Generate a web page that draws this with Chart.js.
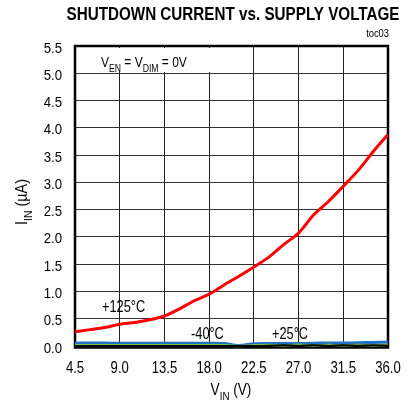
<!DOCTYPE html>
<html>
<head>
<meta charset="utf-8">
<script src="https://cdn.jsdelivr.net/npm/chart.js@4.4.1/dist/chart.umd.min.js"></script>
<style>
  html, body { margin: 0; padding: 0; background: #fff; }
  #wrap { width: 413px; height: 405px; }
</style>
</head>
<body>
<div id="wrap"><canvas id="shutdownChart"></canvas></div>
<script>
const FONT = '"Liberation Sans", Arial, sans-serif';

// supply voltage (V)
const vIn = [4.5, 6.0, 7.5, 9.0, 10.5, 12.0, 13.5, 15.0, 16.5, 18.0, 19.5,
             21.0, 22.5, 24.0, 25.5, 27.0, 28.5, 30.0, 31.5, 33.0, 34.5, 36.0];
const xTicks = [4.5, 9.0, 13.5, 18.0, 22.5, 27.0, 31.5, 36.0];
const yTicks = [0, 0.5, 1, 1.5, 2, 2.5, 3, 3.5, 4, 4.5, 5, 5.5];

// shutdown current (uA)
const i125 = [0.26, 0.30, 0.34, 0.40, 0.43, 0.48, 0.55, 0.68, 0.83, 0.95, 1.12,
              1.28, 1.45, 1.63, 1.86, 2.07, 2.40, 2.65, 2.93, 3.22, 3.56, 3.88];
const iM40 = [0.05, 0.055, 0.055, 0.05, 0.05, 0.05, 0.05, 0.05, 0.05, 0.05, 0.045,
              0.01, 0.04, 0.045, 0.045, 0.045, 0.05, 0.055, 0.055, 0.06, 0.065, 0.07];
const i25 = [0.012, 0.012, 0.012, 0.012, 0.012, 0.012, 0.012, 0.012, 0.012, 0.012, 0.012,
             0.0, 0.012, 0.02, 0.008, 0.022, 0.006, 0.02, 0.008, 0.02, 0.01, 0.018];
const i25b = [0.0, 0.0, 0.0, 0.0, 0.0, 0.0, 0.0, 0.0, 0.0, 0.0, 0.0,
              0.0, 0.0, 0.004, 0.012, 0.002, 0.014, 0.002, 0.012, 0.003, 0.012, 0.004];

const pts = arr => arr.map((v, i) => ({ x: vIn[i], y: v }));

function sqText(ctx, text, x, y, font, sq, align) {
  ctx.save();
  ctx.font = font;
  ctx.textAlign = align || 'left';
  ctx.translate(x, y);
  ctx.scale(sq, 1);
  ctx.fillText(text, 0, 0);
  ctx.restore();
}

// text with subscripts, parts = [[text, isSub], ...]
function subText(ctx, parts, x, y, size, sq, centered) {
  ctx.save();
  let w = 0;
  parts.forEach(p => {
    ctx.font = (p[1] ? size * 0.72 : size) + 'px ' + FONT;
    w += ctx.measureText(p[0]).width;
  });
  ctx.translate(x, y);
  ctx.scale(sq, 1);
  let cx = centered ? -w / 2 : 0;
  ctx.textAlign = 'left';
  parts.forEach(p => {
    ctx.font = (p[1] ? size * 0.72 : size) + 'px ' + FONT;
    ctx.fillText(p[0], cx, p[1] ? size * 0.3 : 0);
    cx += ctx.measureText(p[0]).width;
  });
  ctx.restore();
}

const decorPlugin = {
  id: 'decor',
  beforeDatasetsDraw(chart) {
    const ctx = chart.ctx;
    const a = chart.chartArea;
    ctx.save();
    ctx.strokeStyle = '#000';
    ctx.lineWidth = 2.5;
    ctx.strokeRect(a.left, a.top, a.right - a.left, a.bottom - a.top + 1.5);
    ctx.fillStyle = '#fff';
    ctx.fillRect(a.left + 2, a.top + 2, 134, 24);
    ctx.restore();
  },
  afterDatasetsDraw(chart) {
    const ctx = chart.ctx;
    const a = chart.chartArea;
    const xs = chart.scales.x;
    const ys = chart.scales.y;
    ctx.save();
    ctx.fillStyle = '#000';
    ctx.textBaseline = 'alphabetic';

    // tick labels
    xs.ticks.forEach(t => {
      sqText(ctx, t.value.toFixed(1), xs.getPixelForValue(t.value), a.bottom + 27, '16px ' + FONT, 0.82, 'center');
    });
    ys.ticks.forEach(t => {
      sqText(ctx, t.value.toFixed(1), a.left - 13, ys.getPixelForValue(t.value) + 6.5, '15px ' + FONT, 0.88, 'right');
    });

    // condition
    subText(ctx, [['V', false], ['EN', true], [' = V', false], ['DIM', true], [' = 0V', false]], 101, 67, 15, 0.8);

    // curve labels
    sqText(ctx, '+125\u00B0C', 102, 312, '16px ' + FONT, 0.8);
    sqText(ctx, '-40\u00B0C', 191, 339, '16px ' + FONT, 0.8);
    sqText(ctx, '+25\u00B0C', 272, 339, '16px ' + FONT, 0.8);

    // title
    ctx.save();
    ctx.font = 'bold 18px ' + FONT;
    ctx.textAlign = 'center';
    const title = 'SHUTDOWN CURRENT vs. SUPPLY VOLTAGE';
    const k = 333 / ctx.measureText(title).width;
    ctx.translate(233, 20);
    ctx.scale(k, 1);
    ctx.fillText(title, 0, 0);
    ctx.restore();

    sqText(ctx, 'toc03', 389, 37, '11px ' + FONT, 0.85, 'right');

    // axis titles
    subText(ctx, [['V', false], ['IN', true], [' (V)', false]], 231, 395, 16, 0.85, true);
    ctx.translate(27, 202);
    ctx.rotate(-Math.PI / 2);
    subText(ctx, [['I', false], ['IN', true], [' (\u00B5A)', false]], 0, 0, 16, 0.9, true);
    ctx.restore();
  }
};

const ctx = document.getElementById('shutdownChart').getContext('2d');
const shutdownChart = new Chart(ctx, {
  type: 'line',
  data: {
    datasets: [
      { label: '+25C b', data: pts(i25b), borderColor: '#000000', borderWidth: 2, clip: false },
      { label: '+25C', data: pts(i25), borderColor: '#7dc242', borderWidth: 2.5, clip: false },
      { label: '-40C', data: pts(iM40), borderColor: '#1f72c4', borderWidth: 3, clip: false },
      { label: '+125C', data: pts(i125), borderColor: '#ff0000', borderWidth: 3 }
    ]
  },
  options: {
    responsive: true,
    maintainAspectRatio: false,
    animation: false,
    layout: { padding: { top: 46, right: 25, left: 0, bottom: 0 } },
    elements: { point: { radius: 0 }, line: { tension: 0.3, fill: false } },
    plugins: { legend: { display: false }, tooltip: { enabled: false } },
    scales: {
      x: {
        type: 'linear',
        min: 4.5,
        max: 36,
        afterBuildTicks: scale => { scale.ticks = xTicks.map(v => ({ value: v })); },
        afterFit: scale => { scale.height = 59; },
        border: { display: false },
        grid: { color: '#222', lineWidth: 1, drawTicks: false },
        ticks: { display: false }
      },
      y: {
        min: 0,
        max: 5.5,
        afterBuildTicks: scale => { scale.ticks = yTicks.map(v => ({ value: v })); },
        afterFit: scale => { scale.width = 75; },
        border: { display: false },
        grid: { color: '#333', lineWidth: 1, drawTicks: false },
        ticks: { display: false }
      }
    }
  },
  plugins: [decorPlugin]
});
</script>
</body>
</html>
